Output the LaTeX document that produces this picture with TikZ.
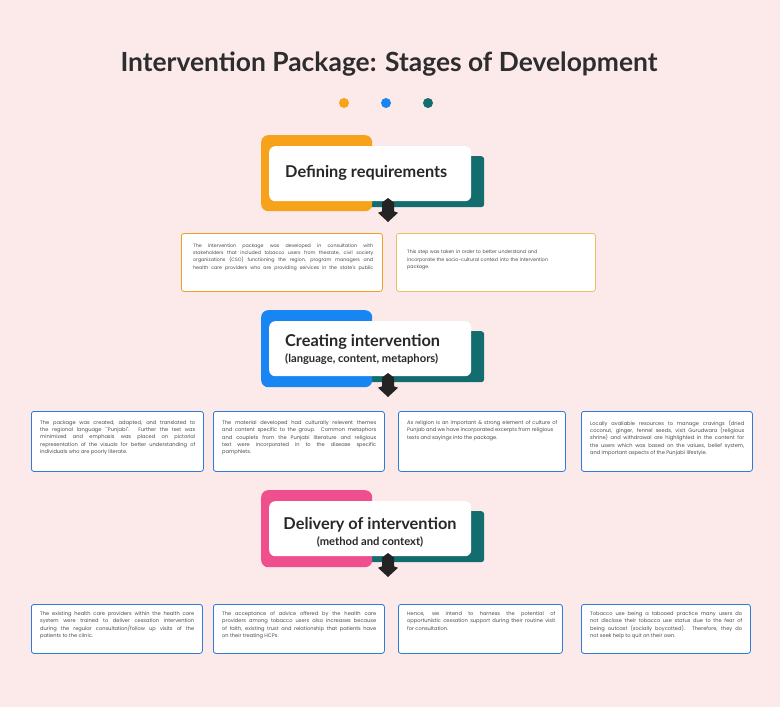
\documentclass[tikz,border=0pt]{standalone}
\usepackage{fontspec}
\setmainfont{Lato}
\newfontfamily\bodyfont{Poppins}
\definecolor{bg}{RGB}{252,233,234}
\definecolor{orangeC}{RGB}{247,162,27}
\definecolor{blueC}{RGB}{23,133,242}
\definecolor{pinkC}{RGB}{239,80,141}
\definecolor{tealC}{RGB}{19,108,110}
\definecolor{darkC}{RGB}{40,40,40}
\definecolor{titleC}{RGB}{45,45,45}
\definecolor{orangeB}{RGB}{240,160,40}
\definecolor{goldB}{RGB}{232,192,105}
\definecolor{blueB}{RGB}{45,125,215}
\definecolor{bodyC}{RGB}{75,75,75}
\begin{document}
\begin{tikzpicture}[x=1pt,y=-1pt,
  blk/.style={rounded corners=7pt, inner sep=0pt, anchor=north west},
  wbox/.style={blk, fill=white, rounded corners=6pt},
  head/.style={font=\fontsize{16.3}{19}\selectfont\bfseries, text=darkC, inner sep=0pt},
  subhead/.style={font=\fontsize{11.2}{13}\selectfont\bfseries, text=darkC, inner sep=0pt},
  dot/.style={circle, minimum size=10pt, inner sep=0pt},
  tbox/.style={fill=white, rounded corners=2.5pt, line width=0.8pt, inner sep=0pt, anchor=north west},
  txt/.style={font=\bodyfont\fontsize{5.1}{7.3}\selectfont, text=bodyC, inner sep=0pt, align=justify},
  txtone/.style={font=\bodyfont\fontsize{4.75}{7.4}\selectfont, text=bodyC, inner sep=0pt, align=justify},
  arr/.style={fill=darkC!90!black}
]
\useasboundingbox (0,0) rectangle (780,707);
\fill[bg] (0,0) rectangle (780,707);

% title
\node[font=\fontsize{26.4}{31}\selectfont\bfseries, text=titleC, inner sep=0pt] (title) at (389,64) {Intervention Package: Stages of Development};
\node[dot, fill=orangeC] (d1) at (344,103) {};
\node[dot, fill=blueC] (d2) at (386,103) {};
\node[dot, fill=tealC] (d3) at (428,103) {};

% ---------- stage 1
\node[blk, fill=tealC, minimum width=144pt, minimum height=51pt, rounded corners=3pt] (s1k) at (340,156) {};
\node[blk, fill=orangeC, minimum width=111pt, minimum height=76pt] (s1c) at (261,135) {};
\node[wbox, minimum width=202pt, minimum height=55pt] (s1w) at (269,146) {};
\node[head, anchor=west] (s1t) at (285,173) {Defining requirements};
\coordinate (s1a) at (388,198);
\fill[arr] (s1a) -- ++(6,4.6) -- ++(0,8.7) -- ++(4,1.5) -- ++(-10,9.2) -- ++(-10,-9.2) -- ++(4,-1.5) -- ++(0,-8.7) -- cycle;

\node[tbox, draw=orangeB, minimum width=201pt, minimum height=58pt] (r1b1) at (181,233) {};
\node[txtone, text width=180pt, anchor=west] (r1t1) at (193,260) {The intervention package was developed in consultation with\linebreak stakeholders that included tobacco users from thestate, civil society\linebreak organizations (CSO) functioning the region, program managers and\linebreak health care providers who are providing services in the state's public\linebreak};
\node[tbox, draw=goldB, minimum width=199pt, minimum height=58pt] (r1b2) at (396,233) {};
\node[txtone, text width=180pt, anchor=west, align=left] (r1t2) at (407,260) {This step was taken in order to better understand and\\ incorporate the socio-cultural context into the intervention\\ package.};

% ---------- stage 2
\node[blk, fill=tealC, minimum width=144pt, minimum height=51pt, rounded corners=3pt] (s2k) at (340,331) {};
\node[blk, fill=blueC, minimum width=111pt, minimum height=77pt] (s2c) at (261,310) {};
\node[wbox, minimum width=202pt, minimum height=55pt] (s2w) at (269,321) {};
\node[head, anchor=west] (s2t) at (285,342) {Creating intervention};
\node[subhead, anchor=west] (s2s) at (285,359) {(language, content, metaphors)};
\coordinate (s2a) at (388,373);
\fill[arr] (s2a) -- ++(6,4.6) -- ++(0,8.7) -- ++(4,1.5) -- ++(-10,9.2) -- ++(-10,-9.2) -- ++(4,-1.5) -- ++(0,-8.7) -- cycle;

\node[tbox, draw=blueB, minimum width=172pt, minimum height=60pt] (r2b1) at (31,411) {};
\node[txt, text width=155pt, anchor=north west] (r2t1) at (40,420.4) {The package was created, adapted, and translated to\linebreak the regional language ``Punjabi''. Further the text was\linebreak minimized and emphasis was placed on pictorial\linebreak representation of the visuals for better understanding of\linebreak individuals who are poorly literate.};
\node[tbox, draw=blueB, minimum width=171pt, minimum height=60pt] (r2b2) at (213,411) {};
\node[txt, text width=154pt, anchor=north west] (r2t2) at (222,420.4) {The material developed had culturally relevent themes\linebreak and content specific to the group. Common metaphors\linebreak and couplets from the Punjabi literature and religious\linebreak text were incorporated in to the disease specific\linebreak pamphlets.};
\node[tbox, draw=blueB, minimum width=167pt, minimum height=60pt] (r2b3) at (398,411) {};
\node[txt, text width=150pt, anchor=north west] (r2t3) at (407,420.4) {As religion is an important \& strong element of culture of\linebreak Punjab and we have incorporated excerpts from religious\\ texts and sayings into the package.};
\node[tbox, draw=blueB, minimum width=171pt, minimum height=60pt] (r2b4) at (581,411) {};
\node[txt, text width=154pt, anchor=north west] (r2t4) at (590,420.4) {Locally available resources to manage cravings (dried\linebreak coconut, ginger, fennel seeds, visit Gurudwara (religious\linebreak shrine) and withdrawal are highlighted in the content for\linebreak the users which was based on the values, belief system,\linebreak and important aspects of the Punjabi lifestyle.};

% ---------- stage 3
\node[blk, fill=tealC, minimum width=144pt, minimum height=51pt, rounded corners=3pt] (s3k) at (340,511) {};
\node[blk, fill=pinkC, minimum width=111pt, minimum height=77pt] (s3c) at (261,490) {};
\node[wbox, minimum width=202pt, minimum height=55pt] (s3w) at (269,501) {};
\node[head] (s3t) at (370,525) {Delivery of intervention};
\node[subhead] (s3s) at (370,542) {(method and context)};
\coordinate (s3a) at (388,553);
\fill[arr] (s3a) -- ++(6,4.6) -- ++(0,8.7) -- ++(4,1.5) -- ++(-10,9.2) -- ++(-10,-9.2) -- ++(4,-1.5) -- ++(0,-8.7) -- cycle;

\node[tbox, draw=blueB, minimum width=171pt, minimum height=49pt] (r3b1) at (31,604) {};
\node[txt, text width=154pt, anchor=north west] (r3t1) at (40,611.4) {The existing health care providers within the health care\linebreak system were trained to deliver cessation intervention\linebreak during the regular consultation/follow up visits of the\linebreak patients to the clinic.};
\node[tbox, draw=blueB, minimum width=171pt, minimum height=49pt] (r3b2) at (213,604) {};
\node[txt, text width=154pt, anchor=north west] (r3t2) at (222,611.4) {The acceptance of advice offered by the health care\linebreak providers among tobacco users also increases because\linebreak of faith, existing trust and relationship that patients have\linebreak on their treating HCPs.};
\node[tbox, draw=blueB, minimum width=164pt, minimum height=49pt] (r3b3) at (398,604) {};
\node[txt, text width=148pt, anchor=north west] (r3t3) at (407,611.4) {Hence, we intend to harness the potential of\linebreak opportunistic cessation support during their routine visit\linebreak for consultation.};
\node[tbox, draw=blueB, minimum width=169pt, minimum height=49pt] (r3b4) at (581,604) {};
\node[txt, text width=152pt, anchor=north west] (r3t4) at (590,611.4) {Tobacco use being a tabooed practice many users do\linebreak not disclose their tobacco use status due to the fear of\linebreak being outcast (socially boycotted). Therefore, they do\linebreak not seek help to quit on their own.};
\end{tikzpicture}
\end{document}
